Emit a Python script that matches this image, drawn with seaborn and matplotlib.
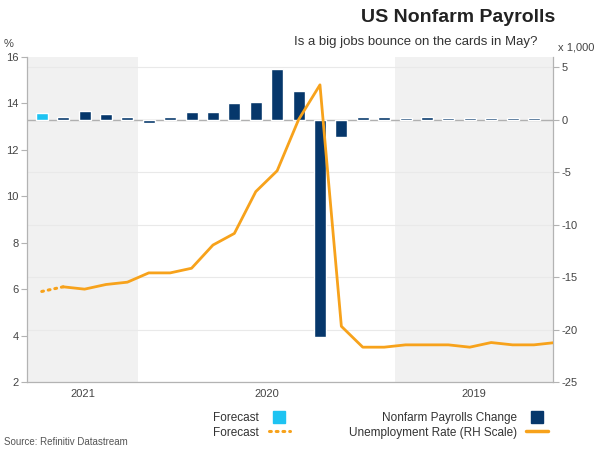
import matplotlib
matplotlib.use("Agg")
import matplotlib.pyplot as plt
import seaborn as sns
import numpy as np
import pandas as pd
from matplotlib.lines import Line2D

sns.set_style("white")
plt.rcParams["font.family"] = ["Liberation Sans", "DejaVu Sans"]
plt.rcParams["axes.unicode_minus"] = False

# ---- data ----
months = ["Jun 2019", "Jul 2019", "Aug 2019", "Sep 2019", "Oct 2019", "Nov 2019", "Dec 2019",
          "Jan 2020", "Feb 2020", "Mar 2020", "Apr 2020", "May 2020", "Jun 2020",
          "Jul 2020", "Aug 2020", "Sep 2020", "Oct 2020", "Nov 2020", "Dec 2020",
          "Jan 2021", "Feb 2021", "Mar 2021", "Apr 2021", "May 2021"]
payrolls = [0.20, 0.20, 0.22, 0.22, 0.20, 0.26, 0.20,
            0.30, 0.28, -1.65, -20.7, 2.8, 4.9,
            1.75, 1.6, 0.73, 0.75, 0.30, -0.31,
            0.26, 0.57, 0.83, 0.32, 0.68]
payroll_kind = ["Actual"] * 23 + ["Forecast"]

rate_months = ["May 2019"] + months
unemployment = [3.7, 3.6, 3.6, 3.7, 3.5, 3.6, 3.6, 3.6,
                3.5, 3.5, 4.4, 14.8, 13.3, 11.1,
                10.2, 8.4, 7.9, 6.9, 6.7, 6.7,
                6.3, 6.2, 6.0, 6.1, 5.9]
rate_forecast_from = "Apr 2021"

years = ["2019", "2020", "2021"]

NAVY = "#06376b"
LIGHTBLUE = "#1ec3f2"
ORANGE = "#f7a21b"
SHADE = "#f1f1f1"
AXISC = "#b3b3b3"
TXT = "#444444"

# positions derived from month order
pos_of = {m: i for i, m in enumerate(months)}
pos_of["May 2019"] = -1
bars = pd.DataFrame({"pos": [pos_of[m] for m in months], "val": payrolls, "kind": payroll_kind})
rate = pd.DataFrame({"pos": [pos_of[m] for m in rate_months], "val": unemployment})
fc_start = pos_of[rate_forecast_from]
rate_actual = rate[rate["pos"] <= fc_start]
rate_fc = rate[rate["pos"] >= fc_start]

fig = plt.figure(figsize=(6, 4.5), dpi=100)
ax = fig.add_axes([27 / 600, 68 / 450, 526 / 600, 325 / 450])

xl, xr = 23.69, -0.89
# shaded year bands (2019 and 2021)
y2020_start = pos_of["Jan 2020"] - 0.5
y2021_start = pos_of["Jan 2021"] - 0.5
ax.axvspan(xr, y2020_start, color=SHADE, zorder=0, lw=0)
ax.axvspan(y2021_start, xl, color=SHADE, zorder=0, lw=0)

sns.barplot(data=bars, x="pos", y="val", hue="kind", native_scale=True, dodge=False,
            palette={"Actual": NAVY, "Forecast": LIGHTBLUE}, width=0.56,
            legend=False, ax=ax, zorder=3, saturation=1)
ax.set_ylim(-25, 6)
ax.set_yticks([-25, -20, -15, -10, -5, 0, 5])
ax.grid(axis="y", color="#e9e9e9", lw=0.8, zorder=1)
ax.set_axisbelow(True)
ax.axhline(0, color="#b0b0b0", lw=1.0, zorder=2)

ax2 = ax.twinx()
sns.lineplot(data=rate_actual, x="pos", y="val", color=ORANGE, lw=2.0, ax=ax2)
sns.lineplot(data=rate_fc, x="pos", y="val", color=ORANGE, lw=2.2, ax=ax2,
             linestyle=(0, (0.6, 1.6)), dash_capstyle="round")
ax2.set_ylim(2, 16)
ax2.set_yticks([2, 4, 6, 8, 10, 12, 14, 16])

# mirrored layout: payroll scale on the right, rate scale on the left
ax.yaxis.tick_right()
ax.yaxis.set_label_position("right")
ax2.yaxis.tick_left()
ax2.yaxis.set_label_position("left")

for a in (ax, ax2):
    a.set_xlim(xl, xr)
    a.set_xlabel("")
    a.set_ylabel("")
    a.tick_params(axis="y", direction="out", length=4, width=0.8, color=AXISC,
                  labelsize=8, labelcolor=TXT, pad=2)

ax.spines["top"].set_visible(False)
for s in ["left", "right", "bottom"]:
    ax.spines[s].set_color(AXISC)
    ax.spines[s].set_linewidth(0.9)
for s in ax2.spines.values():
    s.set_visible(False)

# x axis: year separators and centred year labels
ax.set_xticks([y2020_start, y2021_start])
ax.set_xticklabels([])
centers = [(xr + y2020_start) / 2, (y2020_start + y2021_start) / 2, (y2021_start + xl) / 2]
ax.set_xticks(centers, minor=True)
ax.set_xticklabels(years, minor=True)
ax.tick_params(axis="x", which="major", direction="out", length=5, width=0.8, color=AXISC)
ax.tick_params(axis="x", which="minor", length=0, labelsize=8, labelcolor=TXT, pad=5)

# titles and notes
fig.text(555 / 600, 1 - 17 / 450, "US Nonfarm Payrolls", ha="right", va="center",
         fontsize=14, fontweight="bold", color="#222222")
fig.text(538 / 600, 1 - 42 / 450, "Is a big jobs bounce on the cards in May?", ha="right",
         va="center", fontsize=9.5, color="#333333")
fig.text(594 / 600, 1 - 48 / 450, "x 1,000", ha="right", va="center", fontsize=8, color=TXT)
fig.text(4 / 600, 1 - 44 / 450, "%", ha="left", va="center", fontsize=8, color=TXT)
fig.text(4 / 600, 1 - 442 / 450, "Source: Refinitiv Datastream", ha="left", va="center",
         fontsize=7, color="#555555")

handles = [
    Line2D([], [], marker="s", ms=9, color=LIGHTBLUE, ls="none"),
    Line2D([], [], color=ORANGE, lw=2.2, linestyle=(0, (0.6, 1.6)), dash_capstyle="round"),
    Line2D([], [], marker="s", ms=9, color=NAVY, ls="none"),
    Line2D([], [], color=ORANGE, lw=2.5),
]
labels = ["Forecast", "Forecast", "Nonfarm Payrolls Change", "Unemployment Rate (RH Scale)"]
fig.legend(handles, labels, loc="upper right", bbox_to_anchor=(556 / 600, 1 - 404 / 450),
           ncol=2, markerfirst=False, frameon=False, fontsize=8.5, handlelength=1.8,
           handletextpad=0.8, columnspacing=5.0, labelspacing=0.2, borderpad=0.2,
           labelcolor="#333333")

fig.savefig("out.png", dpi=100)
